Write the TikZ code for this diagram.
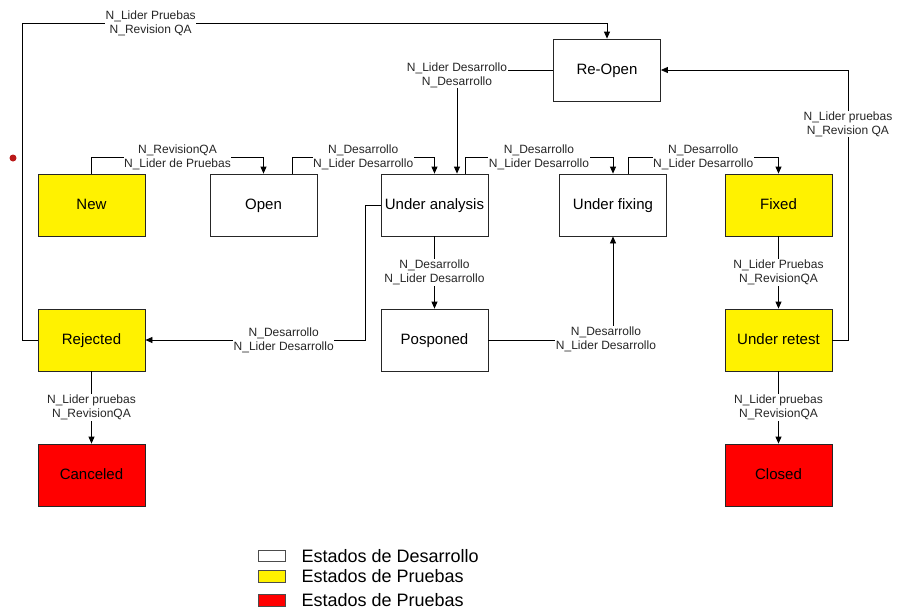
\documentclass[tikz,border=0pt]{standalone}
\usepackage{fontspec}
\setmainfont{Liberation Sans}
\usetikzlibrary{arrows.meta,positioning}

\begin{document}
\begin{tikzpicture}[
  x=1pt, y=-1pt,
  state/.style={draw=black!85, line width=0.8pt, minimum width=107pt, minimum height=62pt,
    inner sep=0pt, text height=11pt, text depth=3pt, font=\fontsize{15}{17}\selectfont},
  devstate/.style={state, fill=white},
  teststate/.style={state, fill=yellow},
  endstate/.style={state, fill=red},
  flow/.style={draw, line width=0.8pt, -{Triangle[length=7pt,width=6pt]}},
  cond/.style={fill=white, align=center, inner sep=0.5pt, text=black!85,
    font=\fontsize{12}{14}\selectfont},
  legbox/.style={draw=black!70, line width=0.8pt, minimum width=27pt, minimum height=11.5pt, inner sep=0pt},
  legtext/.style={inner sep=2pt, font=\fontsize{18}{20}\selectfont}
]
\useasboundingbox (0,0) rectangle (897,614);

% States
\node[teststate] (new) at (91.5,205) {New};
\node[devstate] (open) at (263.5,205) {Open};
\node[devstate] (analysis) at (434.5,205) {Under analysis};
\node[devstate] (fixing) at (613,205) {Under fixing};
\node[teststate] (fixed) at (778.5,205) {Fixed};
\node[devstate] (reopen) at (607,70) {Re-Open};
\node[teststate] (rejected) at (91.5,340) {Rejected};
\node[devstate] (posponed) at (434.5,340) {Posponed};
\node[teststate] (retest) at (778.5,340) {Under retest};
\node[endstate] (canceled) at (91.5,475) {Canceled};
\node[endstate] (closed) at (778.5,475) {Closed};

% Corner points of the long loops
\coordinate (loopTL) at (22,23);
\coordinate (loopTR) at (848,70);

% Transitions along the top row
\draw[flow] (new.north) -- ++(0,-16) -| (open.north)
  node[cond, pos=0.25] {N\_RevisionQA\\N\_Lider de Pruebas};
\draw[flow] ([xshift=28.5pt]open.north) -- ++(0,-16) -| (analysis.north)
  node[cond, pos=0.25] {N\_Desarrollo\\N\_Lider Desarrollo};
\draw[flow] ([xshift=30.5pt]analysis.north) -- ++(0,-16) -| (fixing.north)
  node[cond, pos=0.25] {N\_Desarrollo\\N\_Lider Desarrollo};
\draw[flow] ([xshift=15pt]fixing.north) -- ++(0,-16) -| (fixed.north)
  node[cond, pos=0.25] {N\_Desarrollo\\N\_Lider Desarrollo};

% Re-Open transitions
\draw[flow] (reopen.west) -| ([xshift=22.5pt]analysis.north)
  node[cond, pos=0.5, yshift=-5pt] {N\_Lider Desarrollo\\N\_Desarrollo};
\draw[flow] (rejected.west) -| (loopTL) -| (reopen.north)
  node[cond, pos=0.11] {N\_Lider Pruebas\\N\_Revision QA};
\draw[flow] (retest.east) -| (loopTR)
  node[cond, pos=0.9] {N\_Lider pruebas\\N\_Revision QA} -- (reopen.east);

% Middle row
\draw[flow] (analysis.west) -- ++(-15,0) |- (rejected.east)
  node[cond, pos=0.686] {N\_Desarrollo\\N\_Lider Desarrollo};
\draw[flow] (analysis.south) -- (posponed.north)
  node[cond, midway] {N\_Desarrollo\\N\_Lider Desarrollo};
\draw[flow] (posponed.east) -| (fixing.south)
  node[cond, pos=0.5, xshift=-7pt, yshift=1pt] {N\_Desarrollo\\N\_Lider Desarrollo};
\draw[flow] (fixed.south) -- (retest.north)
  node[cond, midway] {N\_Lider Pruebas\\N\_RevisionQA};

% Final states
\draw[flow] (rejected.south) -- (canceled.north)
  node[cond, midway] {N\_Lider pruebas\\N\_RevisionQA};
\draw[flow] (retest.south) -- (closed.north)
  node[cond, midway] {N\_Lider pruebas\\N\_RevisionQA};

% Stray mark at the left edge
\fill[red!70!black!90] (13,158) circle (3.5pt);

% Legend
\node[legbox, fill=white] (legdev) at (271.5,556) {};
\node[legbox, fill=yellow] (legtest) at (271.5,576.5) {};
\node[legbox, fill=red] (legend) at (271.5,600.5) {};
\node[legtext, right=14pt of legdev] {Estados de Desarrollo};
\node[legtext, right=14pt of legtest] {Estados de Pruebas};
\node[legtext, right=14pt of legend] {Estados de Pruebas};
\end{tikzpicture}
\end{document}
